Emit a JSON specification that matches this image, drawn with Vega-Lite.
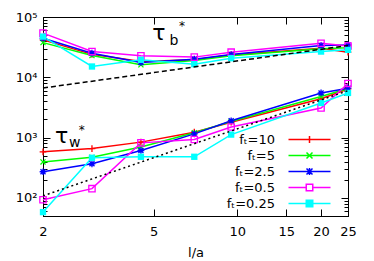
{
  "$schema": "https://vega.github.io/schema/vega-lite/v6.json",
  "width": 305,
  "height": 199,
  "autosize": "none",
  "padding": {"left": 43, "top": 17, "right": 26, "bottom": 45},
  "background": "white",
  "config": {
    "view": {"stroke": "black", "strokeWidth": 1},
    "axis": {"domainColor": "black", "tickColor": "black", "labelColor": "black", "titleColor": "black", "labelFont": "DejaVu Sans", "titleFont": "DejaVu Sans", "grid": false, "labelFontSize": 13, "titleFontSize": 13, "titleFontWeight": "normal", "domainWidth": 1, "tickWidth": 1},
    "legend": {"labelFont": "DejaVu Sans", "labelFontSize": 13, "labelColor": "black"},
    "text": {"font": "DejaVu Sans", "color": "black"}
  },
  "datasets": {
    "main": [
      {"x": 2, "y": 41700, "s": "10", "g": "b"}, {"x": 3, "y": 24000, "s": "10", "g": "b"}, {"x": 4.5, "y": 18300, "s": "10", "g": "b"}, {"x": 7, "y": 19500, "s": "10", "g": "b"}, {"x": 9.5, "y": 23400, "s": "10", "g": "b"}, {"x": 20, "y": 30300, "s": "10", "g": "b"}, {"x": 25, "y": 26100, "s": "10", "g": "b"},
      {"x": 2, "y": 37600, "s": "5", "g": "b"}, {"x": 3, "y": 22900, "s": "5", "g": "b"}, {"x": 4.5, "y": 16100, "s": "5", "g": "b"}, {"x": 7, "y": 19000, "s": "5", "g": "b"}, {"x": 9.5, "y": 22800, "s": "5", "g": "b"}, {"x": 20, "y": 29600, "s": "5", "g": "b"}, {"x": 25, "y": 31000, "s": "5", "g": "b"},
      {"x": 2, "y": 44400, "s": "2.5", "g": "b"}, {"x": 3, "y": 25100, "s": "2.5", "g": "b"}, {"x": 4.5, "y": 17600, "s": "2.5", "g": "b"}, {"x": 7, "y": 20000, "s": "2.5", "g": "b"}, {"x": 9.5, "y": 23800, "s": "2.5", "g": "b"}, {"x": 20, "y": 33600, "s": "2.5", "g": "b"}, {"x": 25, "y": 34400, "s": "2.5", "g": "b"},
      {"x": 2, "y": 54000, "s": "0.5", "g": "b"}, {"x": 3, "y": 26700, "s": "0.5", "g": "b"}, {"x": 4.5, "y": 22700, "s": "0.5", "g": "b"}, {"x": 7, "y": 21600, "s": "0.5", "g": "b"}, {"x": 9.5, "y": 26100, "s": "0.5", "g": "b"}, {"x": 20, "y": 36700, "s": "0.5", "g": "b"}, {"x": 25, "y": 33100, "s": "0.5", "g": "b"},
      {"x": 2, "y": 47300, "s": "0.25", "g": "b"}, {"x": 3, "y": 15100, "s": "0.25", "g": "b"}, {"x": 4.5, "y": 19500, "s": "0.25", "g": "b"}, {"x": 7, "y": 16500, "s": "0.25", "g": "b"}, {"x": 9.5, "y": 20700, "s": "0.25", "g": "b"}, {"x": 20, "y": 26700, "s": "0.25", "g": "b"}, {"x": 25, "y": 28500, "s": "0.25", "g": "b"},
      {"x": 2, "y": 580, "s": "10", "g": "w"}, {"x": 3, "y": 657, "s": "10", "g": "w"}, {"x": 4.5, "y": 840, "s": "10", "g": "w"}, {"x": 7, "y": 1230, "s": "10", "g": "w"}, {"x": 9.5, "y": 1800, "s": "10", "g": "w"}, {"x": 20, "y": 4400, "s": "10", "g": "w"}, {"x": 25, "y": 6400, "s": "10", "g": "w"},
      {"x": 2, "y": 395, "s": "5", "g": "w"}, {"x": 3, "y": 470, "s": "5", "g": "w"}, {"x": 4.5, "y": 700, "s": "5", "g": "w"}, {"x": 7, "y": 1200, "s": "5", "g": "w"}, {"x": 9.5, "y": 1850, "s": "5", "g": "w"}, {"x": 20, "y": 4800, "s": "5", "g": "w"}, {"x": 25, "y": 6500, "s": "5", "g": "w"},
      {"x": 2, "y": 271, "s": "2.5", "g": "w"}, {"x": 3, "y": 367, "s": "2.5", "g": "w"}, {"x": 4.5, "y": 610, "s": "2.5", "g": "w"}, {"x": 7, "y": 1150, "s": "2.5", "g": "w"}, {"x": 9.5, "y": 1900, "s": "2.5", "g": "w"}, {"x": 20, "y": 5500, "s": "2.5", "g": "w"}, {"x": 25, "y": 6600, "s": "2.5", "g": "w"},
      {"x": 2, "y": 93, "s": "0.5", "g": "w"}, {"x": 3, "y": 142, "s": "0.5", "g": "w"}, {"x": 4.5, "y": 817, "s": "0.5", "g": "w"}, {"x": 7, "y": 927, "s": "0.5", "g": "w"}, {"x": 9.5, "y": 1500, "s": "0.5", "g": "w"}, {"x": 20, "y": 3100, "s": "0.5", "g": "w"}, {"x": 25, "y": 7900, "s": "0.5", "g": "w"},
      {"x": 2, "y": 58, "s": "0.25", "g": "w"}, {"x": 3, "y": 462, "s": "0.25", "g": "w"}, {"x": 4.5, "y": 480, "s": "0.25", "g": "w"}, {"x": 7, "y": 480, "s": "0.25", "g": "w"}, {"x": 9.5, "y": 1120, "s": "0.25", "g": "w"}, {"x": 20, "y": 3750, "s": "0.25", "g": "w"}, {"x": 25, "y": 5500, "s": "0.25", "g": "w"}
    ],
    "ref": [
      {"x": 2, "y": 6640, "r": "b"}, {"x": 25, "y": 33600, "r": "b"},
      {"x": 2, "y": 108, "r": "w"}, {"x": 25, "y": 6000, "r": "w"}
    ],
    "tau": [
      {"x": 5.225, "y": 41540, "t": "τ"}, {"x": 2.335, "y": 804, "t": "τ"}
    ],
    "sub": [
      {"x": 5.917, "y": 34330, "t": "b"}, {"x": 2.6, "y": 706, "t": "w"}
    ],
    "star": [
      {"x": 6.32, "y": 60850, "t": "*"}, {"x": 2.756, "y": 1160, "t": "*"}
    ]
  },
  "layer": [
    {
      "data": {"name": "main"},
      "mark": {"type": "line", "strokeWidth": 1.5},
      "encoding": {
        "x": {"field": "x", "type": "quantitative", "scale": {"type": "log", "domain": [2, 25], "nice": false},
              "axis": {"orient": "bottom", "values": [2, 5, 10, 15, 20, 25], "tickSize": -7, "labelPadding": 16, "labelFlush": false, "title": "l/a", "titlePadding": 8}},
        "y": {"field": "y", "type": "quantitative", "scale": {"type": "log", "domain": [50, 100000], "nice": false},
              "axis": {"orient": "left", "title": null, "labelPadding": 13,
                       "values": [60, 70, 80, 90, 100, 200, 300, 400, 500, 600, 700, 800, 900, 1000, 2000, 3000, 4000, 5000, 6000, 7000, 8000, 9000, 10000, 20000, 30000, 40000, 50000, 60000, 70000, 80000, 90000, 100000],
                       "labelExpr": "datum.value == 100 ? '10²' : datum.value == 1000 ? '10³' : datum.value == 10000 ? '10⁴' : datum.value == 100000 ? '10⁵' : ''",
                       "tickSize": {"condition": {"test": "indexof([100,1000,10000,100000], datum.value) >= 0", "value": -7}, "value": -4}}},
        "color": {"field": "s", "type": "nominal",
                  "scale": {"domain": ["10", "5", "2.5", "0.5", "0.25"], "range": ["#ff0000", "#00ff00", "#0000ff", "#ff00ff", "#00ffff"]},
                  "legend": {"orient": "none", "legendX": 260, "legendY": 116, "title": null, "labelAlign": "right", "labelOffset": -41, "symbolSize": 100, "symbolStrokeWidth": 1.5, "rowPadding": 2,
                             "labelExpr": "'fₜ=' + datum.label",
                             "encode": {"symbols": {"update": {
                               "shape": {"signal": "datum.value == '10' ? 'M-4.2,0L4.2,0M0,-0.7L0,0.7' : datum.value == '5' ? 'M-4.2,0L4.2,0M-0.6,-0.6L0.6,0.6M-0.6,0.6L0.6,-0.6' : datum.value == '2.5' ? 'M-4.2,0L4.2,0M0,-0.7L0,0.7M-0.6,-0.6L0.6,0.6M-0.6,0.6L0.6,-0.6' : datum.value == '0.5' ? 'M-4.2,0L-0.65,0M0.65,0L4.2,0M-0.65,-0.65L0.65,-0.65L0.65,0.65L-0.65,0.65Z' : 'M-4.2,0L4.2,0M-0.65,-0.65L0.65,-0.65L0.65,0.65L-0.65,0.65Z'"},
                               "fill": {"signal": "datum.value == '0.25' ? '#00ffff' : 'transparent'"}
                             }}}}},
        "detail": {"field": "g"}
      }
    },
    {
      "data": {"name": "main"},
      "transform": [{"filter": {"field": "s", "equal": "10"}}],
      "mark": {"type": "point", "size": 45, "strokeWidth": 1.3, "opacity": 1, "filled": false, "color": "#ff0000", "shape": "M-1,0L1,0M0,-1L0,1"},
      "encoding": {
        "x": {"field": "x", "type": "quantitative", "axis": {"orient": "top", "labels": false, "values": [2, 5, 10, 15, 20, 25], "tickSize": -7, "title": null}},
        "y": {"field": "y", "type": "quantitative",
              "axis": {"orient": "right", "labels": false, "title": null,
                       "values": [60, 70, 80, 90, 100, 200, 300, 400, 500, 600, 700, 800, 900, 1000, 2000, 3000, 4000, 5000, 6000, 7000, 8000, 9000, 10000, 20000, 30000, 40000, 50000, 60000, 70000, 80000, 90000, 100000],
                       "tickSize": {"condition": {"test": "indexof([100,1000,10000,100000], datum.value) >= 0", "value": -7}, "value": -4}}}
      }
    },
    {
      "data": {"name": "main"},
      "transform": [{"filter": {"field": "s", "equal": "5"}}],
      "mark": {"type": "point", "size": 40, "strokeWidth": 1.3, "opacity": 1, "filled": false, "color": "#00ff00", "shape": "M-0.8,-0.8L0.8,0.8M-0.8,0.8L0.8,-0.8"},
      "encoding": {
        "x": {"field": "x", "type": "quantitative", "axis": null},
        "y": {"field": "y", "type": "quantitative", "axis": null}
      }
    },
    {
      "data": {"name": "main"},
      "transform": [{"filter": {"field": "s", "equal": "2.5"}}],
      "mark": {"type": "point", "size": 45, "strokeWidth": 1.3, "opacity": 1, "filled": false, "color": "#0000ff", "shape": "M-1,0L1,0M0,-1L0,1M-0.75,-0.75L0.75,0.75M-0.75,0.75L0.75,-0.75"},
      "encoding": {
        "x": {"field": "x", "type": "quantitative", "axis": null},
        "y": {"field": "y", "type": "quantitative", "axis": null}
      }
    },
    {
      "data": {"name": "main"},
      "transform": [{"filter": {"field": "s", "equal": "0.5"}}],
      "mark": {"type": "point", "size": 40, "strokeWidth": 1.3, "opacity": 1, "filled": false, "color": "#ff00ff", "shape": "square"},
      "encoding": {
        "x": {"field": "x", "type": "quantitative", "axis": null},
        "y": {"field": "y", "type": "quantitative", "axis": null}
      }
    },
    {
      "data": {"name": "main"},
      "transform": [{"filter": {"field": "s", "equal": "0.25"}}],
      "mark": {"type": "point", "size": 40, "opacity": 1, "filled": true, "color": "#00ffff", "shape": "square"},
      "encoding": {
        "x": {"field": "x", "type": "quantitative", "axis": null},
        "y": {"field": "y", "type": "quantitative", "axis": null}
      }
    },
    {
      "data": {"name": "ref"},
      "mark": {"type": "line", "strokeWidth": 1.5, "color": "black"},
      "encoding": {
        "x": {"field": "x", "type": "quantitative", "axis": null},
        "y": {"field": "y", "type": "quantitative", "axis": null},
        "strokeDash": {"field": "r", "type": "nominal", "scale": {"domain": ["b", "w"], "range": [[5, 3], [2, 3]]}, "legend": null}
      }
    },
    {
      "data": {"name": "tau"},
      "mark": {"type": "text", "fontSize": 22, "align": "center", "baseline": "alphabetic"},
      "encoding": {
        "x": {"field": "x", "type": "quantitative", "axis": null},
        "y": {"field": "y", "type": "quantitative", "axis": null},
        "text": {"field": "t"}
      }
    },
    {
      "data": {"name": "sub"},
      "mark": {"type": "text", "fontSize": 14, "align": "center", "baseline": "alphabetic"},
      "encoding": {
        "x": {"field": "x", "type": "quantitative", "axis": null},
        "y": {"field": "y", "type": "quantitative", "axis": null},
        "text": {"field": "t"}
      }
    },
    {
      "data": {"name": "star"},
      "mark": {"type": "text", "fontSize": 12, "align": "center", "baseline": "alphabetic"},
      "encoding": {
        "x": {"field": "x", "type": "quantitative", "axis": null},
        "y": {"field": "y", "type": "quantitative", "axis": null},
        "text": {"field": "t"}
      }
    }
  ],
  "resolve": {"axis": {"x": "independent", "y": "independent"}}
}
